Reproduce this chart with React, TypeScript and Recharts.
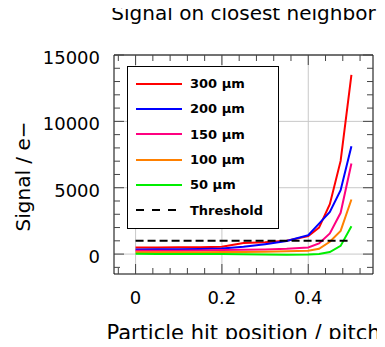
import { CartesianGrid, Legend, Line, LineChart, XAxis, YAxis } from "recharts";

const positions = [0, 0.05, 0.1, 0.15, 0.2, 0.25, 0.3, 0.35, 0.4, 0.425, 0.45, 0.475, 0.5];
const sig300 = [500, 500, 510, 520, 550, 830, 900, 1010, 1350, 2000, 3760, 7020, 13510];
const sig200 = [350, 360, 370, 390, 430, 550, 750, 980, 1430, 2300, 3180, 4810, 8120];
const sig150 = [250, 255, 260, 270, 300, 320, 350, 400, 500, 800, 1560, 3110, 6820];
const sig100 = [130, 130, 135, 140, 150, 160, 180, 210, 250, 400, 930, 1750, 4110];
const sig50 = [20, 15, 10, 5, 0, -20, -40, -50, -40, 0, 150, 620, 2100];
const threshold = [1000, 1000, 1000, 1000, 1000, 1000, 1000, 1000, 1000, 1000, 1000, 1000, 1000];

const seriesKeys = ["s300", "s200", "s150", "s100", "s50", "thr"];
const seriesNames = ["300 µm", "200 µm", "150 µm", "100 µm", "50 µm", "Threshold"];
const seriesColors = ["#ff0000", "#0000ff", "#ff0080", "#ff8000", "#00ee00", "#000000"];

const xDomain = [-0.05, 0.55];
const yDomain = [-1500, 15000];
const xMajor = [0, 0.2, 0.4];
const xTicks = [-0.04, 0, 0.04, 0.08, 0.12, 0.16, 0.2, 0.24, 0.28, 0.32, 0.36, 0.4, 0.44, 0.48, 0.52];
const yMajor = [0, 5000, 10000, 15000];
const yTicks = [
  -1000, 0, 1000, 2000, 3000, 4000, 5000, 6000, 7000, 8000, 9000, 10000, 11000, 12000, 13000, 14000,
  15000,
];

const data = positions.map((x, i) => ({
  x,
  s300: sig300[i],
  s200: sig200[i],
  s150: sig150[i],
  s100: sig100[i],
  s50: sig50[i],
  thr: threshold[i],
}));

const FONT = "DejaVu Sans";
const TICK = "#444";

function BottomTick({ x, y, payload }: any) {
  const major = xMajor.includes(payload.value);
  return (
    <g>
      <line x1={x} y1={y} x2={x} y2={y - (major ? 10 : 6)} stroke={TICK} />
      {major && (
        <text x={x} y={y + 30} textAnchor="middle" fontSize={18} fontFamily={FONT} fill="#000">
          {String(payload.value)}
        </text>
      )}
    </g>
  );
}

function TopTick({ x, y, payload }: any) {
  const major = xMajor.includes(payload.value);
  return <line x1={x} y1={y} x2={x} y2={y + (major ? 10 : 6)} stroke={TICK} />;
}

function LeftTick({ x, y, payload }: any) {
  const major = yMajor.includes(payload.value);
  return (
    <g>
      <line x1={x} y1={y} x2={x + (major ? 10 : 6)} y2={y} stroke={TICK} />
      {major && (
        <text x={x - 14} y={y + 9} textAnchor="end" fontSize={18} fontFamily={FONT} fill="#000">
          {String(payload.value)}
        </text>
      )}
    </g>
  );
}

function RightTick({ x, y, payload }: any) {
  const major = yMajor.includes(payload.value);
  return <line x1={x} y1={y} x2={x - (major ? 10 : 6)} y2={y} stroke={TICK} />;
}

function LegendBox({ payload }: any) {
  const items = [...(payload || [])].sort(
    (a: any, b: any) => seriesNames.indexOf(a.value) - seriesNames.indexOf(b.value)
  );
  return (
    <div
      style={{
        border: "1px solid #000",
        background: "#fff",
        width: 152,
        height: 163,
        paddingTop: 4,
        boxSizing: "border-box",
        fontFamily: FONT,
        fontSize: 13,
        fontWeight: "bold",
      }}
    >
      {items.map((entry: any) => (
        <div key={entry.value} style={{ display: "flex", alignItems: "center", height: 25.3 }}>
          <svg width={56} height={6} style={{ marginLeft: 8 }}>
            <line
              x1={0}
              y1={3}
              x2={46}
              y2={3}
              stroke={entry.color}
              strokeWidth={2}
              strokeDasharray={entry.value === "Threshold" ? "8 8" : undefined}
            />
          </svg>
          <span style={{ marginLeft: -2 }}>{entry.value}</span>
        </div>
      ))}
    </div>
  );
}

// grid lines only at the major ticks, placed with the plot offset and axis domain
function gridX({ offset }: any) {
  return xMajor.map((v) => offset.left + ((v - xDomain[0]) / (xDomain[1] - xDomain[0])) * offset.width);
}

function gridY({ offset }: any) {
  return yMajor.map(
    (v) => offset.top + offset.height - ((v - yDomain[0]) / (yDomain[1] - yDomain[0])) * offset.height
  );
}

export default function App() {
  return (
    <div style={{ fontFamily: FONT, margin: -8, width: 385, height: 347 }}>
      <LineChart width={385} height={347} data={data} margin={{ top: 54, right: 11, bottom: 0, left: 0 }}>
        <CartesianGrid
          xAxisId="b"
          yAxisId="l"
          stroke="#c8c8c8"
          verticalCoordinatesGenerator={gridX}
          horizontalCoordinatesGenerator={gridY}
        />
        <XAxis
          xAxisId="b"
          dataKey="x"
          type="number"
          domain={xDomain}
          allowDataOverflow
          ticks={xTicks}
          interval={0}
          tickSize={0}
          tickMargin={0}
          tickLine={false}
          tick={BottomTick}
          axisLine={{ stroke: "#000" }}
          height={73}
          label={{
            content: ({ viewBox }: any) => (
              <text
                x={viewBox.x + viewBox.width / 2}
                y={viewBox.y + 66}
                textAnchor="middle"
                fontSize={21}
                fontFamily={FONT}
                fill="#000"
              >
                Particle hit position / pitch
              </text>
            ),
          }}
        />
        <XAxis
          xAxisId="t"
          orientation="top"
          dataKey="x"
          type="number"
          domain={xDomain}
          allowDataOverflow
          ticks={xTicks}
          interval={0}
          tickSize={0}
          tickMargin={0}
          tickLine={false}
          tick={TopTick}
          axisLine={{ stroke: "#000" }}
          height={1}
          label={{
            content: ({ viewBox }: any) => (
              <text
                x={viewBox.x + viewBox.width / 2}
                y={viewBox.y - 34}
                textAnchor="middle"
                fontSize={20}
                fontFamily={FONT}
                fill="#000"
              >
                Signal on closest neighbor
              </text>
            ),
          }}
        />
        <YAxis
          yAxisId="l"
          type="number"
          domain={yDomain}
          allowDataOverflow
          ticks={yTicks}
          interval={0}
          tickSize={0}
          tickMargin={0}
          tickLine={false}
          tick={LeftTick}
          axisLine={{ stroke: "#000" }}
          width={114}
          label={{
            content: ({ viewBox }: any) => {
              const cx = viewBox.x + 30;
              const cy = viewBox.y + viewBox.height / 2 + 12;
              return (
                <text
                  x={cx}
                  y={cy}
                  transform={`rotate(-90, ${cx}, ${cy})`}
                  textAnchor="middle"
                  fontSize={20}
                  fontFamily={FONT}
                  fill="#000"
                >
                  Signal / e−
                </text>
              );
            },
          }}
        />
        <YAxis
          yAxisId="r"
          orientation="right"
          type="number"
          domain={yDomain}
          allowDataOverflow
          ticks={yTicks}
          interval={0}
          tickSize={0}
          tickMargin={0}
          tickLine={false}
          tick={RightTick}
          axisLine={{ stroke: "#000" }}
          width={1}
        />
        <Legend
          layout="vertical"
          align="center"
          verticalAlign="middle"
          content={LegendBox}
          wrapperStyle={{ left: 127, top: 66, width: 152, height: 163 }}
        />
        {seriesKeys.map((k, i) => (
          <Line
            key={k}
            xAxisId="b"
            yAxisId="l"
            dataKey={k}
            name={seriesNames[i]}
            type="linear"
            stroke={seriesColors[i]}
            strokeWidth={2}
            strokeDasharray={k === "thr" ? "8 4" : undefined}
            dot={false}
            activeDot={false}
            isAnimationActive={false}
          />
        ))}
      </LineChart>
    </div>
  );
}
